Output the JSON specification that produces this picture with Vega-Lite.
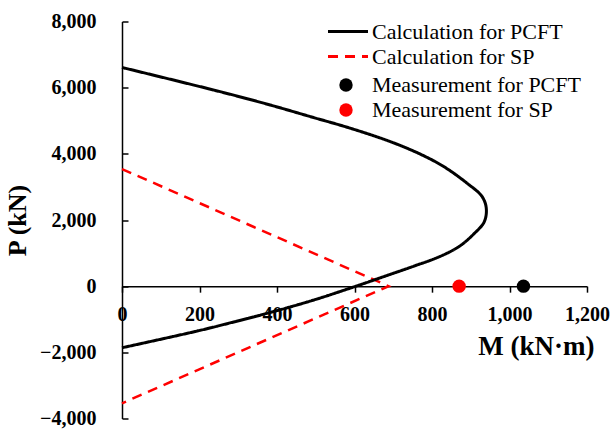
{
  "$schema": "https://vega.github.io/schema/vega-lite/v6.json",
  "width": 465,
  "height": 397,
  "autosize": {"type": "none"},
  "padding": {"left": 122, "top": 21.5, "right": 24, "bottom": 10.5},
  "background": "white",
  "config": {"view": {"stroke": null}, "font": "Liberation Serif"},
  "datasets": {
    "pcft": [
      {"seq": 1, "M": 0, "P": 6610, "series": "Calculation for PCFT"},
      {"seq": 2, "M": 253, "P": 5880, "series": "Calculation for PCFT"},
      {"seq": 3, "M": 382, "P": 5478, "series": "Calculation for PCFT"},
      {"seq": 4, "M": 486, "P": 5125, "series": "Calculation for PCFT"},
      {"seq": 5, "M": 589, "P": 4775, "series": "Calculation for PCFT"},
      {"seq": 6, "M": 692, "P": 4371, "series": "Calculation for PCFT"},
      {"seq": 7, "M": 770, "P": 3990, "series": "Calculation for PCFT"},
      {"seq": 8, "M": 830, "P": 3617, "series": "Calculation for PCFT"},
      {"seq": 9, "M": 890, "P": 3116, "series": "Calculation for PCFT"},
      {"seq": 10, "M": 929, "P": 2712, "series": "Calculation for PCFT"},
      {"seq": 11, "M": 940, "P": 2362, "series": "Calculation for PCFT"},
      {"seq": 12, "M": 935, "P": 1950, "series": "Calculation for PCFT"},
      {"seq": 13, "M": 908, "P": 1580, "series": "Calculation for PCFT"},
      {"seq": 14, "M": 870, "P": 1200, "series": "Calculation for PCFT"},
      {"seq": 15, "M": 821, "P": 900, "series": "Calculation for PCFT"},
      {"seq": 16, "M": 752, "P": 600, "series": "Calculation for PCFT"},
      {"seq": 17, "M": 666, "P": 250, "series": "Calculation for PCFT"},
      {"seq": 18, "M": 604, "P": 0, "series": "Calculation for PCFT"},
      {"seq": 19, "M": 500, "P": -400, "series": "Calculation for PCFT"},
      {"seq": 20, "M": 400, "P": -740, "series": "Calculation for PCFT"},
      {"seq": 21, "M": 279, "P": -1110, "series": "Calculation for PCFT"},
      {"seq": 22, "M": 202, "P": -1335, "series": "Calculation for PCFT"},
      {"seq": 23, "M": 0, "P": -1862, "series": "Calculation for PCFT"}
    ],
    "sp": [
      {"seq": 1, "M": 0, "P": 3540, "series": "Calculation for SP"},
      {"seq": 2, "M": 688, "P": 0, "series": "Calculation for SP"},
      {"seq": 3, "M": 0, "P": -3540, "series": "Calculation for SP"}
    ],
    "meas": [
      {"M": 1036, "P": 0, "m": "Measurement for PCFT"},
      {"M": 870, "P": 0, "m": "Measurement for SP"}
    ]
  },
  "encoding": {
    "x": {
      "field": "M", "type": "quantitative",
      "scale": {"domain": [0, 1200], "nice": false, "zero": false},
      "axis": {
        "orient": "bottom", "offset": -132.33,
        "values": [0, 200, 400, 600, 800, 1000, 1200], "format": ",.0f",
        "grid": false, "domainColor": "black", "domainWidth": 1.5,
        "tickColor": "black", "tickWidth": 1.5, "tickSize": 6,
        "labelFont": "Liberation Serif", "labelFontWeight": "bold", "labelFontSize": 20,
        "labelColor": "black", "labelPadding": 12, "labelFlush": false, "labelOverlap": false,
        "title": "M (kN·m)", "titleFont": "Liberation Serif", "titleFontWeight": "bold",
        "titleFontSize": 27, "titleColor": "black", "titleAnchor": "end", "titleAlign": "right",
        "titleX": 472, "titlePadding": 9
      }
    },
    "y": {
      "field": "P", "type": "quantitative",
      "scale": {"domain": [-4000, 8000], "nice": false, "zero": false},
      "axis": {
        "orient": "left",
        "values": [-4000, -2000, 0, 2000, 4000, 6000, 8000], "format": ",.0f",
        "grid": false, "domainColor": "black", "domainWidth": 1.5,
        "tickColor": "black", "tickWidth": 1.5, "tickSize": -6,
        "labelFont": "Liberation Serif", "labelFontWeight": "bold", "labelFontSize": 20,
        "labelColor": "black", "labelPadding": 32, "labelFlush": false, "labelOverlap": false,
        "title": "P (kN)", "titleFont": "Liberation Serif", "titleFontWeight": "bold",
        "titleFontSize": 26, "titleColor": "black", "titlePadding": 9
      }
    }
  },
  "layer": [
    {
      "data": {"name": "sp"},
      "mark": {"type": "line", "strokeWidth": 2.5},
      "encoding": {
        "order": {"field": "seq", "type": "quantitative"},
        "stroke": {
          "field": "series", "type": "nominal",
          "scale": {"domain": ["Calculation for PCFT", "Calculation for SP"], "range": ["black", "#ff0000"]},
          "legend": {"title": null, "orient": "none", "legendX": 214.5, "legendY": -1.5, "symbolType": "M-2,0H2", "symbolSize": 400, "symbolStrokeWidth": 3, "labelFont": "Liberation Serif", "labelFontSize": 22, "labelColor": "black", "labelOffset": 12.5, "labelLimit": 0, "rowPadding": 2, "padding": 0}
        },
        "strokeDash": {
          "field": "series", "type": "nominal",
          "scale": {"domain": ["Calculation for PCFT", "Calculation for SP"], "range": [[1, 0], [10, 7]]},
          "legend": {"title": null, "orient": "none", "legendX": 214.5, "legendY": -1.5, "symbolType": "M-2,0H2", "symbolSize": 400, "symbolStrokeWidth": 3, "labelFont": "Liberation Serif", "labelFontSize": 22, "labelColor": "black", "labelOffset": 12.5, "labelLimit": 0, "rowPadding": 2, "padding": 0}
        }
      }
    },
    {
      "data": {"name": "pcft"},
      "mark": {"type": "line", "strokeWidth": 3, "interpolate": "catmull-rom"},
      "encoding": {
        "order": {"field": "seq", "type": "quantitative"},
        "stroke": {"field": "series", "type": "nominal"},
        "strokeDash": {"field": "series", "type": "nominal"}
      }
    },
    {
      "data": {"name": "meas"},
      "mark": {"type": "point", "filled": true, "size": 180, "opacity": 1},
      "encoding": {
        "fill": {
          "field": "m", "type": "nominal",
          "scale": {"domain": ["Measurement for PCFT", "Measurement for SP"], "range": ["black", "#ff0000"]},
          "legend": {"title": null, "orient": "none", "legendX": 213, "legendY": 52.5, "symbolType": "circle", "symbolSize": 180, "symbolStrokeWidth": 0, "labelFont": "Liberation Serif", "labelFontSize": 22, "labelColor": "black", "labelOffset": 15, "labelLimit": 0, "rowPadding": 3, "padding": 0}
        }
      }
    }
  ]
}
